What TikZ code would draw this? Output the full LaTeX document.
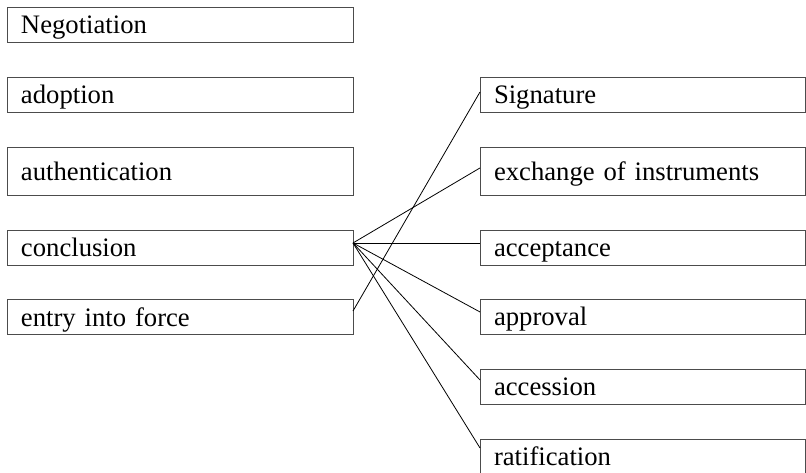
\documentclass[tikz,border=0pt]{standalone}
\usepackage{fontspec}
\setmainfont{Liberation Serif}
\usetikzlibrary{positioning}

\tikzset{
  term/.style={draw=black!70, line width=0.7pt, anchor=west, outer sep=0pt,
    inner xsep=10.5pt, inner ysep=0pt, align=left,
    text height=14pt, text depth=0pt, minimum height=26.25pt,
    font=\fontsize{20}{24}\selectfont},
  leftterm/.style={term, text width=238.5pt},
  rightterm/.style={term, text width=222.75pt},
  link/.style={draw=black, line width=0.6pt}
}

\begin{document}
\begin{tikzpicture}[x=0.75pt,y=-0.75pt]
      \useasboundingbox (0,0) rectangle (806,472);
      % stages of the treaty on the left
      \node[leftterm] (negot) at (7,24.5) {Negotiation};
      \node[leftterm] (adopt) at (7,94.5) {adoption};
      \node[leftterm, minimum height=36pt] (authent) at (7,171) {authentication};
      \node[leftterm] (concl) at (7,247.5) {conclusion};
      \node[leftterm] (entry) at (7,317) {entry into force};
      % ways of consent on the right
      \node[rightterm] (sign) at (480,94.5) {Signature};
      \node[rightterm, minimum height=36pt] (exch) at (480,171) {exchange of instruments};
      \node[rightterm] (accept) at (480,247.5) {acceptance};
      \node[rightterm] (appr) at (480,316.5) {approval};
      \node[rightterm] (access) at (480,386.5) {accession};
      \node[rightterm] (ratif) at (480,456.5) {ratification};
      % links
      \foreach \t/\s in {exch/2.3pt, accept/3.4pt, appr/3.4pt, access/4.9pt, ratif/6.4pt}
        \draw[link] ([yshift=3.4pt]concl.east) -- ([yshift=\s]\t.west);
      \draw[link] ([yshift=4.5pt]entry.east) -- ([yshift=1.9pt]sign.west);
\end{tikzpicture}
\end{document}
